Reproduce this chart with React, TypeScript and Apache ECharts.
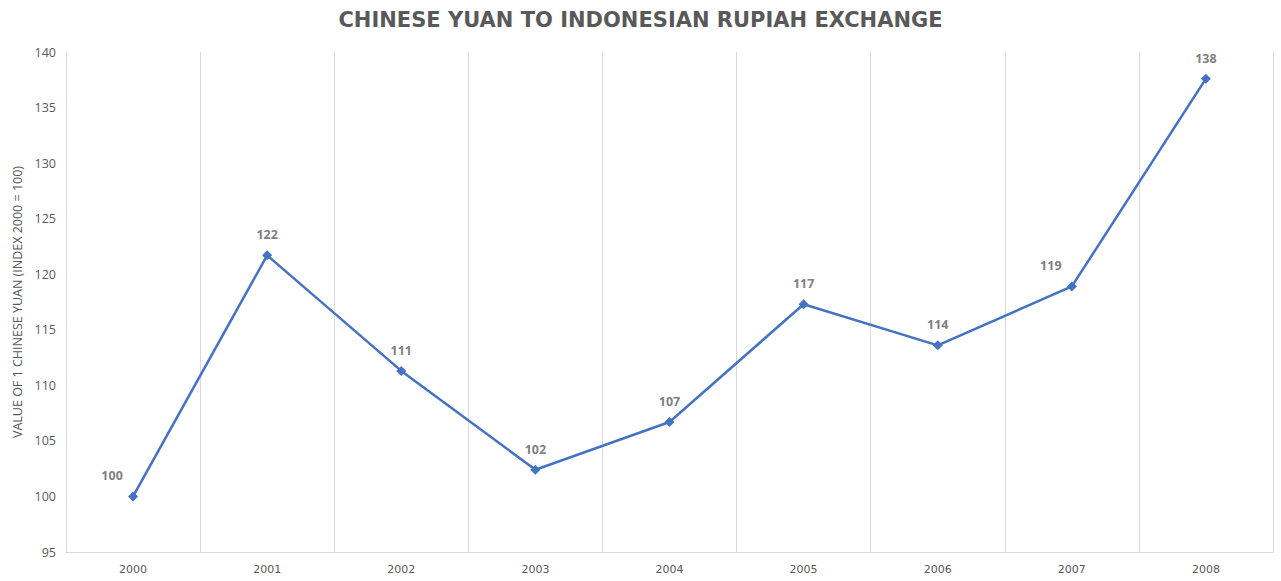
import React, { useEffect, useRef } from "react";
import * as echarts from "echarts";

const TITLE = "CHINESE YUAN TO INDONESIAN RUPIAH EXCHANGE";
const Y_NAME = "VALUE OF 1 CHINESE YUAN (INDEX 2000 = 100)";
const years = ["2000", "2001", "2002", "2003", "2004", "2005", "2006", "2007", "2008"];
const values = [100, 121.7, 111.3, 102.4, 106.7, 117.3, 113.6, 118.9, 137.6];
const labelShiftLeft = [true, false, false, false, false, false, false, true, false];

export default function App() {
  const ref = useRef<HTMLDivElement>(null);
  useEffect(() => {
    if (!ref.current) return;
    const chart = echarts.init(ref.current, undefined, { renderer: "svg" });
    chart.setOption({
      animation: false,
      backgroundColor: "#ffffff",
      title: {
        text: TITLE,
        left: "center",
        top: 4,
        textStyle: {
          fontFamily: "DejaVu Sans",
          fontSize: 21,
          fontWeight: "bold",
          color: "#595959",
        },
      },
      grid: {
        left: 66,
        right: 8,
        top: 52,
        bottom: 29,
        containLabel: false,
        outerBoundsMode: "none",
      },
      xAxis: {
        type: "category",
        data: years,
        boundaryGap: true,
        axisLine: { show: true, lineStyle: { color: "#d9d9d9", width: 1 } },
        axisTick: { show: false },
        splitLine: { show: true, lineStyle: { color: "#d9d9d9", width: 1 } },
        axisLabel: {
          color: "#595959",
          fontFamily: "DejaVu Sans",
          fontSize: 11,
          margin: 12,
        },
      },
      yAxis: {
        type: "value",
        min: 95,
        max: 140,
        interval: 5,
        name: Y_NAME,
        nameLocation: "middle",
        nameGap: 42,
        nameTextStyle: { color: "#595959", fontFamily: "Open Sans", fontSize: 12.5 },
        axisLine: { show: false },
        axisTick: { show: false },
        splitLine: { show: false },
        axisLabel: { color: "#595959", fontFamily: "Open Sans", fontSize: 12.5, margin: 10 },
      },
      series: [
        {
          type: "line",
          data: values.map((v, i) => ({
            value: v,
            label: labelShiftLeft[i] ? { offset: [-21, 0] } : undefined,
          })),
          symbol: "diamond",
          symbolSize: 10,
          lineStyle: { color: "#4472C4", width: 2.5 },
          itemStyle: { color: "#4472C4" },
          label: {
            show: true,
            position: "top",
            distance: 9,
            color: "#7f7f7f",
            fontWeight: "bold",
            fontFamily: "Open Sans",
            fontSize: 12.5,
            formatter: (p: any) => Math.round(p.value).toString(),
          },
        },
      ],
    });
    return () => chart.dispose();
  }, []);
  return (
    <div
      ref={ref}
      style={{ position: "fixed", left: 0, top: 0, width: 1281, height: 581 }}
    />
  );
}
